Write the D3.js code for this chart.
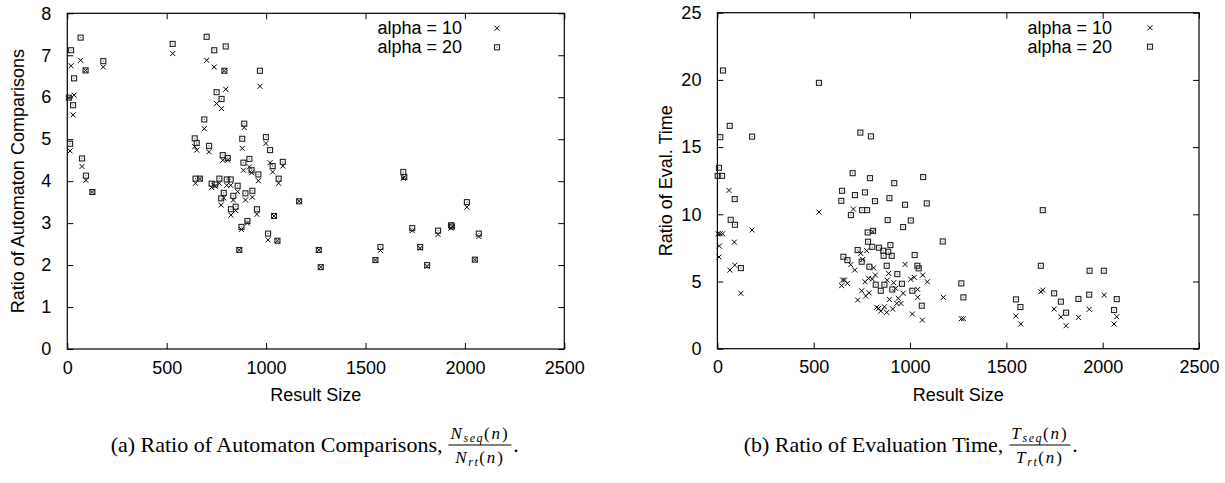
<!DOCTYPE html>
<html><head><meta charset="utf-8">
<script src="https://cdn.jsdelivr.net/npm/d3@7"></script>
<style>
html,body{margin:0;padding:0;background:#fff;}
svg{display:block;}
</style></head>
<body>
<svg id="chart" width="1225" height="483"></svg>
<script>
// ---------- DATA ----------
const xTicks = [0, 500, 1000, 1500, 2000, 2500];
const leftYTicks = [0, 1, 2, 3, 4, 5, 6, 7, 8];
const rightYTicks = [0, 5, 10, 15, 20, 25];
const seriesLabels = ["alpha = 10", "alpha = 20"];
const xTitle = "Result Size";
const leftYTitle = "Ratio of Automaton Comparisons";
const rightYTitle = "Ratio of Eval. Time";

// (a) automaton comparisons: result sizes and ratios
const leftSizes = [8,14,19,29,34,67,74,92,94,126,181,530,
  641,651,645,667,689,701,713,726,739,744,751,765,774,776,782,787,790,797,802,807,822,823,835,847,857,865,876,880,886,890,896,906,916,927,931,954,961,969,999,1010,1020,1033,1040,1057,1063,1084,1166,1265,1275,1550,1575,1690,1695,1735,1775,1810,1865,1930,1935,2010,2050,2070];
const leftAlpha10 = [5.99,4.72,6.75,5.58,6.05,6.88,4.35,6.64,4.02,3.74,6.72,7.04,
  4.82,4.74,3.95,4.06,5.25,6.88,4.70,3.85,6.72,3.88,5.85,3.95,3.43,5.73,4.50,3.60,6.63,6.19,3.90,4.50,3.90,3.19,3.55,3.30,3.75,2.36,2.85,4.78,4.26,5.28,3.55,3.00,4.34,4.20,3.62,3.21,4.01,6.26,4.90,2.60,4.44,4.22,3.17,2.58,3.95,4.36,3.52,2.36,1.95,2.12,2.35,4.07,4.10,2.82,2.40,1.97,2.73,2.88,2.92,3.38,2.13,2.68];
const leftAlpha20 = [5.99,4.89,7.12,5.81,6.45,7.42,4.54,6.64,4.13,3.74,6.86,7.27,
  5.02,4.91,4.06,4.06,5.47,7.44,4.84,3.94,7.12,3.92,6.12,4.06,3.59,5.96,4.62,3.72,6.63,7.21,4.04,4.55,4.04,3.33,3.65,3.39,3.89,2.36,2.91,5.01,4.44,5.37,3.71,3.05,4.53,4.26,3.77,3.33,4.16,6.63,5.05,2.75,4.74,4.36,3.17,2.58,4.06,4.46,3.52,2.36,1.95,2.12,2.43,4.22,4.10,2.88,2.43,2.00,2.82,2.95,2.92,3.50,2.13,2.75];

// (b) evaluation time
const rightSizes10 = [3,8,10,14,27,60,65,88,90,122,180,527,
  645,650,660,675,692,706,713,728,744,749,754,766,770,775,785,787,806,804,811,820,827,837,848,867,879,882,889,893,910,915,925,931,939,953,964,974,1004,1012,1022,1040,1040,1064,1066,1090,1173,1266,1277,1549,1575,1679,1689,1748,1783,1810,1874,1930,2008,2059,2073];
const rightAlpha10 = [8.55,6.82,7.64,8.55,8.55,11.78,5.85,7.93,6.22,4.12,8.83,10.16,
  4.69,5.11,5.11,4.86,6.25,10.39,5.85,3.62,7.09,4.31,6.64,4.98,3.92,7.29,5.23,4.16,8.70,5.18,6.02,5.48,3.08,3.00,2.80,3.12,2.70,5.10,5.60,3.67,2.95,4.91,4.49,3.37,3.75,3.37,4.12,6.27,5.16,2.58,5.31,4.41,3.82,2.13,5.48,4.98,3.82,2.23,2.23,2.43,1.84,4.24,4.36,2.95,2.36,1.71,2.33,2.93,3.99,1.84,2.38];
const rightSizes20 = [1.5,8,15,24,29,64,69,90,91,122,180,527,
  643,647,654,675,693,702,714,728,742,749,751,766,777,780,782,789,792,797,804,808,818,822,839,848,861,863,867,879,884,887,893,898,905,908,918,934,958,964,974,1004,1012,1024,1038,1045,1061,1068,1087,1170,1266,1277,1550,1573,1679,1689,1748,1783,1810,1874,1930,1932,2006,2059,2073];
const rightAlpha20 = [12.86,13.46,15.74,12.86,20.70,16.58,9.59,11.13,9.22,6.00,15.78,19.78,
  11.00,11.75,6.84,6.59,9.94,13.06,11.43,7.34,16.08,6.47,10.31,11.63,10.31,8.65,7.96,6.10,12.69,15.80,7.58,8.77,10.98,4.76,7.51,4.31,7.29,6.91,4.76,6.17,9.57,7.21,11.20,7.71,6.91,4.41,12.32,5.55,4.83,9.05,10.71,9.54,4.31,6.97,6.17,5.98,3.20,12.77,10.81,7.98,4.86,3.82,3.67,3.10,6.17,10.31,4.12,3.50,2.68,3.70,4.02,5.80,5.80,2.88,3.69];

// ---------- DRAW ----------
const svg = d3.select("#chart");
const FONT = "'Liberation Sans', Arial, Helvetica, sans-serif";
const SERIF = "'Liberation Serif', 'Times New Roman', serif";

function crossPath(s){ return `M${-s},${-s}L${s},${s}M${-s},${s}L${s},${-s}`; }

function boxMark(sel){
  sel.append("rect").attr("x", -2.5).attr("y", -2.5).attr("width", 5).attr("height", 5)
    .attr("fill", "none").attr("stroke", "#222").attr("stroke-width", 1.1);
  sel.append("rect").attr("x", -0.5).attr("y", -0.5).attr("width", 1).attr("height", 1).attr("fill", "#444");
}

function panel(cfg){
  const x = d3.scaleLinear().domain([0, 2500]).range([cfg.left, cfg.right]);
  const y = d3.scaleLinear().domain([0, cfg.yMax]).range([cfg.bottom, cfg.top]);
  const g = svg.append("g");

  const ax = (gen, tr, lab) => {
    const a = g.append("g").attr("transform", tr).call(gen);
    a.select(".domain").remove();
    a.selectAll("line").attr("stroke", "#000").attr("stroke-width", 1);
    a.selectAll("text").attr("font-family", FONT).attr("font-size", 18).attr("fill", "#000");
    if (!lab) a.selectAll("text").remove();
    return a;
  };
  ax(d3.axisBottom(x).tickValues(xTicks).tickSize(-6).tickPadding(12).tickFormat(d3.format("d")), `translate(0,${cfg.bottom})`, true);
  ax(d3.axisTop(x).tickValues(xTicks).tickSize(-6), `translate(0,${cfg.top})`, false);
  ax(d3.axisLeft(y).tickValues(cfg.yTicks).tickSize(-6).tickPadding(16).tickFormat(d3.format("d")), `translate(${cfg.left},0)`, true);
  ax(d3.axisRight(y).tickValues(cfg.yTicks).tickSize(-6), `translate(${cfg.right},0)`, false);

  g.append("rect").attr("x", cfg.left).attr("y", cfg.top)
    .attr("width", cfg.right - cfg.left).attr("height", cfg.bottom - cfg.top)
    .attr("fill", "none").attr("stroke", "#000").attr("stroke-width", 1.2);

  g.append("text").attr("x", (cfg.left + cfg.right) / 2).attr("y", cfg.bottom + 52)
    .attr("text-anchor", "middle").attr("font-family", FONT).attr("font-size", 18).text(xTitle);
  g.append("text").attr("transform", `translate(${cfg.yTitleX},${(cfg.top + cfg.bottom) / 2}) rotate(-90)`)
    .attr("text-anchor", "middle").attr("font-family", FONT).attr("font-size", 18).text(cfg.yTitle);

  const pts10 = cfg.s10.map((d, i) => [d, cfg.v10[i]]);
  g.append("g").selectAll("path").data(pts10).join("path")
    .attr("transform", d => `translate(${x(d[0])},${y(d[1])})`)
    .attr("d", crossPath(2.5)).attr("stroke", "#000").attr("stroke-width", 1).attr("fill", "none");
  const pts20 = cfg.s20.map((d, i) => [d, cfg.v20[i]]);
  g.append("g").selectAll("g").data(pts20).join("g")
    .attr("transform", d => `translate(${x(d[0])},${y(d[1])})`)
    .call(boxMark);

  const lg = g.append("g");
  seriesLabels.forEach((t, i) => {
    const ly = cfg.top + 15 + i * 19;
    lg.append("text").attr("x", cfg.legTextX).attr("y", ly + 6).attr("text-anchor", "end")
      .attr("font-family", FONT).attr("font-size", 18).text(t);
    const m = lg.append("g").attr("transform", `translate(${cfg.legMarkX},${ly})`);
    if (i === 0) m.append("path").attr("d", crossPath(2.5)).attr("stroke", "#000").attr("fill", "none");
    else boxMark(m);
  });
}

panel({left: 67.3, right: 564.3, top: 13.3, bottom: 349, yMax: 8, yTicks: leftYTicks,
  yTitle: leftYTitle, yTitleX: 24, s10: leftSizes, v10: leftAlpha10, s20: leftSizes, v20: leftAlpha20,
  legTextX: 462, legMarkX: 497});
panel({left: 717.4, right: 1199, top: 12.7, bottom: 348.7, yMax: 25, yTicks: rightYTicks,
  yTitle: rightYTitle, yTitleX: 672, s10: rightSizes10, v10: rightAlpha10, s20: rightSizes20, v20: rightAlpha20,
  legTextX: 1112, legMarkX: 1150});

// captions
function fracLine(sel, sym, sub){
  sel.append("tspan").attr("font-style", "italic").text(sym);
  sel.append("tspan").attr("font-style", "italic").attr("font-size", 12).attr("dy", 3).attr("letter-spacing", 1.5).text(sub);
  sel.append("tspan").attr("dy", -3).text("(");
  sel.append("tspan").attr("font-style", "italic").text("n");
  sel.append("tspan").text(")");
}
function caption(center, label, sym){
  const cg = svg.append("g");
  const t = cg.append("text").attr("x", 0).attr("y", 452)
    .attr("font-family", SERIF).attr("font-size", 22).text(label);
  const w = t.node().getComputedTextLength();
  const fx = w + 6;
  const frac = cg.append("g").attr("font-family", SERIF).attr("font-size", 17).attr("letter-spacing", 1.8);
  const num = frac.append("text").attr("x", fx).attr("y", 439);
  fracLine(num, sym, "seq");
  const den = frac.append("text").attr("x", fx).attr("y", 463);
  fracLine(den, sym, "rt");
  const nw = num.node().getComputedTextLength();
  const dw = den.node().getComputedTextLength();
  const fw = Math.max(nw, dw) + 4;
  num.attr("x", fx + (fw - nw) / 2);
  den.attr("x", fx + (fw - dw) / 2);
  frac.append("line").attr("x1", fx).attr("x2", fx + fw).attr("y1", 445).attr("y2", 445)
    .attr("stroke", "#000").attr("stroke-width", 1.2);
  cg.append("text").attr("x", fx + fw + 2).attr("y", 452)
    .attr("font-family", SERIF).attr("font-size", 22).text(".");
  const total = fx + fw + 8;
  cg.attr("transform", `translate(${center - total / 2},0)`);
}
caption(315, "(a) Ratio of Automaton Comparisons,", "N");
caption(911, "(b) Ratio of Evaluation Time,", "T");
</script>
</body></html>
